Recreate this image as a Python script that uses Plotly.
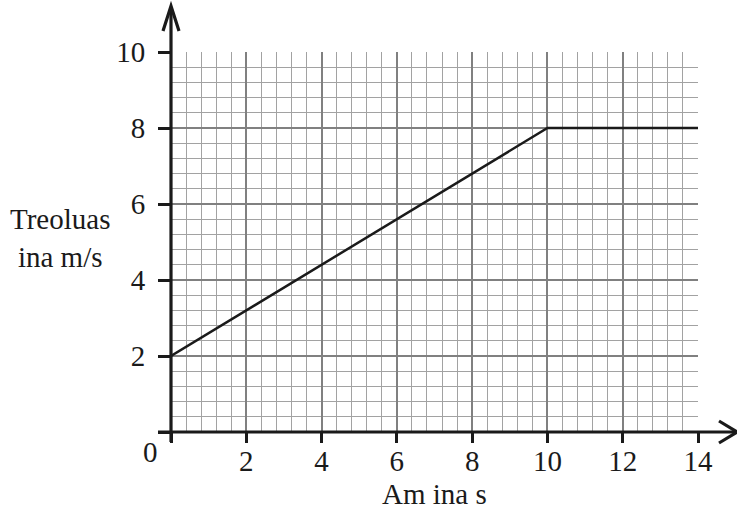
import plotly.graph_objects as go

# Data
time_s = [0, 10, 14]
speed_ms = [2, 8, 8]
x_ticks = [0, 2, 4, 6, 8, 10, 12, 14]
y_ticks = [0, 2, 4, 6, 8, 10]
x_title = "Am ina s"
y_title = "Treoluas<br>ina m/s"

W, H = 737, 511
L, R, T, B = 171, 39, 52, 79
XMAX, YMAX = 14, 10
FONT = "Liberation Serif, Times New Roman, serif"
FS = 29

pw = W - L - R
ph = H - T - B


def px(xpix):
    return (xpix - L) / pw


def py(ypix):
    return (H - B - ypix) / ph


fig = go.Figure()
fig.add_trace(go.Scatter(x=time_s, y=speed_ms, mode="lines",
                         line=dict(color="#1a1a1a", width=2.5),
                         hoverinfo="skip", showlegend=False))

axis_common = dict(
    showline=False, zeroline=False, showgrid=True,
    gridcolor="#808080", gridwidth=1.6,
    ticks="outside", tickcolor="#1a1a1a", tickwidth=3,
    tickfont=dict(family=FONT, size=FS, color="#1a1a1a"),
    labelalias={"0": ""}, fixedrange=True,
)

fig.update_xaxes(range=[0, XMAX], tickmode="array", tickvals=x_ticks, ticklen=10,
                 ticklabelstandoff=-7,
                 minor=dict(dtick=0.4, tick0=0, showgrid=True, gridcolor="#a2a2a2",
                            gridwidth=1.4, ticks=""),
                 **axis_common)
fig.update_yaxes(range=[0, YMAX], tickmode="array", tickvals=y_ticks, ticklen=12,
                 ticklabelstandoff=7,
                 minor=dict(dtick=0.4, tick0=0, showgrid=True, gridcolor="#a2a2a2",
                            gridwidth=1.4, ticks=""),
                 **axis_common)

ax_col = "#1a1a1a"
shapes = [
    dict(type="line", xref="paper", yref="paper", x0=px(171), x1=px(171),
         y0=py(442), y1=py(7), line=dict(color=ax_col, width=3.2), layer="above"),
    dict(type="line", xref="paper", yref="paper", x0=px(158), x1=px(736),
         y0=py(432), y1=py(432), line=dict(color=ax_col, width=3.2), layer="above"),
    dict(type="path", xref="paper", yref="paper",
         path=f"M {px(163)},{py(31)} L {px(171)},{py(6)} L {px(179)},{py(31)}",
         line=dict(color=ax_col, width=3.2), layer="above"),
    dict(type="path", xref="paper", yref="paper",
         path=f"M {px(719)},{py(421)} L {px(737)},{py(432)} L {px(719)},{py(443)}",
         line=dict(color=ax_col, width=3.2), layer="above"),
]

annotations = [
    dict(text="0", xref="paper", yref="paper", x=px(150), y=py(452),
         showarrow=False, font=dict(family=FONT, size=FS, color=ax_col),
         xanchor="center", yanchor="middle"),
    dict(text=x_title, xref="paper", yref="paper", x=0.5, y=py(494),
         showarrow=False, font=dict(family=FONT, size=FS, color=ax_col),
         xanchor="center", yanchor="middle"),
    dict(text=y_title, xref="paper", yref="paper", x=px(60), y=py(238),
         showarrow=False, font=dict(family=FONT, size=FS, color=ax_col),
         xanchor="center", yanchor="middle", align="center"),
]

fig.update_layout(
    width=W, height=H,
    margin=dict(l=L, r=R, t=T, b=B, pad=0),
    plot_bgcolor="white", paper_bgcolor="white",
    shapes=shapes, annotations=annotations,
    showlegend=False,
)

fig.write_html("out.html", config={"displayModeBar": False},
               post_script="document.body.style.margin='0';document.body.style.overflow='hidden';")
